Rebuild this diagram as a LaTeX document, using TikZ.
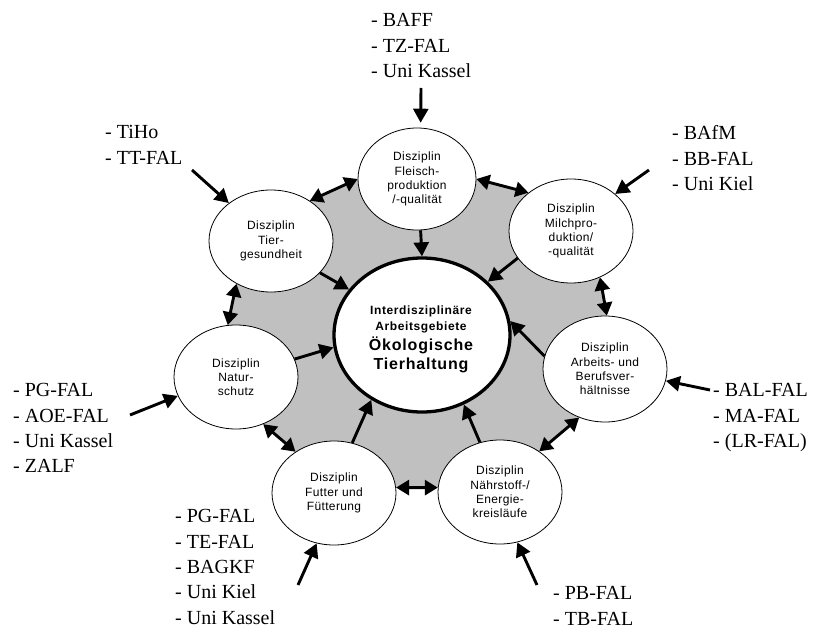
\documentclass[tikz,border=0pt]{standalone}
\usepackage{fontspec}
\setmainfont{Liberation Serif}
\newfontfamily\discfont[LetterSpace=3]{Liberation Sans}
\newfontfamily\ctrfont[LetterSpace=5]{Liberation Sans}
\usetikzlibrary{shapes.geometric,arrows.meta}
\pgfdeclarelayer{background}
\pgfsetlayers{background,main}
\definecolor{fillgrey}{RGB}{192,192,192}
\begin{document}
\begin{tikzpicture}[x=1pt,y=-1pt,
 disc/.style={ellipse, draw=black, line width=0.8pt, fill=white, minimum width=124pt, minimum height=104pt, inner sep=0pt, align=center, font=\discfont\fontsize{12}{14.2}\selectfont},
 ctrdisc/.style={ellipse, draw=black, line width=3.3pt, fill=white, minimum width=176pt, minimum height=154pt, inner sep=0pt},
 ctrtxt/.style={anchor=base, inner sep=0pt, font=\ctrfont\bfseries\fontsize{12}{14}\selectfont},
 ctrbig/.style={anchor=base, inner sep=0pt, font=\ctrfont\bfseries\fontsize{16}{18}\selectfont},
 lbl/.style={anchor=north west, inner sep=0pt, align=left, font=\fontsize{20}{25.3}\selectfont},
 arr/.style={line width=2.9pt, -{Triangle[length=14pt,width=15pt]}},
 darr/.style={line width=2.9pt, {Triangle[length=13pt,width=15pt]}-{Triangle[length=13pt,width=15pt]}},
]
\useasboundingbox (0,0) rectangle (813,628);

% centre
\node[ctrdisc] (ctr) at (422,335) {};
\node[ctrtxt] (ct1) at (421,314) {Interdisziplinäre};
\node[ctrtxt] (ct2) at (421,330) {Arbeitsgebiete};
\node[ctrbig] (ct3) at (421,350) {Ökologische};
\node[ctrbig] (ct4) at (421,369.5) {Tierhaltung};

% disciplines
\node[disc, minimum width=118pt, minimum height=102pt] (fleisch) at (417,179) {Disziplin\\Fleisch-\\produktion\\/-qualität};
\node[disc] (milch) at (571,231) {Disziplin\\Milchpro-\\duktion/\\-qualität};
\node[disc, minimum height=106pt] (arbeits) at (605,369) {Disziplin\\Arbeits- und\\Berufsver-\\hältnisse};
\node[disc] (naehr) at (500,492) {Disziplin\\Nährstoff-/\\Energie-\\kreisläufe};
\node[disc] (futter) at (334,493) {Disziplin\\Futter und\\Fütterung};
\node[disc] (natur) at (236,377) {Disziplin\\Natur-\\schutz};
\node[disc, minimum height=102pt] (tier) at (271,241) {Disziplin\\Tier-\\gesundheit};

% grey background
\begin{pgfonlayer}{background}
\fill[fillgrey] (fleisch.0) -- (milch.138) -- (milch.-58) -- (arbeits.88) -- (arbeits.-118)
  -- (naehr.46) -- (naehr.176) -- (futter.5) -- (futter.133) -- (natur.-60) -- (natur.99)
  -- (tier.-129) -- (tier.46) -- (fleisch.180) -- cycle;
\end{pgfonlayer}

% arrows to centre
\draw[arr] (fleisch.-86) -- (ctr.north);
\draw[arr] (milch.207) -- (ctr.39);
\draw[arr] (arbeits.168) -- (ctr.9);
\draw[arr] (naehr.112) -- (ctr.-59);
\draw[arr] (futter.70) -- (ctr.232);
\draw[arr] (natur.17) -- (ctr.188);
\draw[arr] (tier.-33) -- (ctr.148);

% double arrows between disciplines
\draw[darr] (tier.46) -- (fleisch.180);
\draw[darr] (fleisch.0) -- (milch.138);
\draw[darr] (milch.-58) -- (arbeits.88);
\draw[darr] (arbeits.-118) -- (naehr.46);
\draw[darr] (naehr.176) -- (futter.5);
\draw[darr] (futter.133) -- (natur.-60);
\draw[darr] (natur.99) -- (tier.-129);

% institution labels
\node[lbl] (lfleisch) at (371,13.5) {- BAFF\\- TZ-FAL\\- Uni Kassel};
\node[lbl] (lmilch) at (672,125.5) {- BAfM\\- BB-FAL\\- Uni Kiel};
\node[lbl] (ltier) at (105,125.5) {- TiHo\\- TT-FAL};
\node[lbl] (lnatur) at (13,383.5) {- PG-FAL\\- AOE-FAL\\- Uni Kassel\\- ZALF};
\node[lbl] (lfutter) at (175,509.5) {- PG-FAL\\- TE-FAL\\- BAGKF\\- Uni Kiel\\- Uni Kassel};
\node[lbl] (larbeits) at (713,383.5) {- BAL-FAL\\- MA-FAL\\- (LR-FAL)};
\node[lbl] (lnaehr) at (553,586.5) {- PB-FAL\\- TB-FAL};

% incoming arrows
\coordinate (efleisch) at (421,88);
\coordinate (emilch) at (649,170);
\coordinate (etier) at (192,170);
\coordinate (enatur) at (130,415);
\coordinate (efutter) at (298,585);
\coordinate (enaehr) at (537,585);
\coordinate (earbeits) at (710,390);
\draw[arr, shorten >=5pt] (efleisch) -- (fleisch.86);
\draw[arr] (emilch) -- (milch.40);
\draw[arr] (etier) -- (tier.138);
\draw[arr] (enatur) -- (natur.198);
\draw[arr] (efutter) -- (futter.251);
\draw[arr] (enaehr) -- (naehr.-71);
\draw[arr] (earbeits) -- (arbeits.-11);
\end{tikzpicture}
\end{document}
